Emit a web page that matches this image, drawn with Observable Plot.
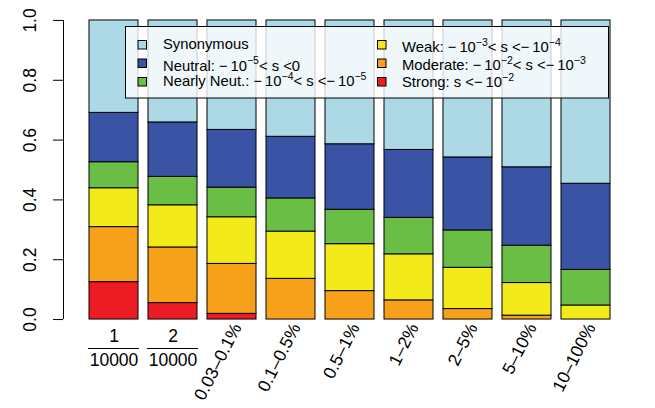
<!DOCTYPE html>
<html><head><meta charset="utf-8">
<script src="https://cdn.jsdelivr.net/npm/d3@7"></script>
<script src="https://cdn.jsdelivr.net/npm/@observablehq/plot@0.6"></script>
<style>
html,body{margin:0;padding:0;background:#fff;}
#chart svg{display:block;}
</style></head><body><div id="chart"></div>
<script>
// ---- data ----
const categories = ["1/10000","2/10000","0.03–0.1%","0.1–0.5%","0.5–1%","1–2%","2–5%","5–10%","10–100%"];
const strong        = [0.125,0.055,0.019,0,0,0,0,0,0];
const moderate      = [0.184,0.186,0.167,0.136,0.095,0.064,0.035,0.013,0];
const weak          = [0.130,0.141,0.156,0.158,0.157,0.154,0.138,0.109,0.047];
const nearlyNeutral = [0.087,0.095,0.099,0.111,0.115,0.122,0.125,0.125,0.119];
const neutral       = [0.165,0.182,0.193,0.206,0.219,0.227,0.244,0.262,0.288];
const synonymous    = [0.309,0.341,0.366,0.389,0.414,0.433,0.458,0.491,0.546];
const classes = ["Strong","Moderate","Weak","Nearly Neut.","Neutral","Synonymous"];
const classColors = ["#ec1c24","#f7a11a","#f3ea1a","#6abd45","#3a53a4","#add8e6"];
const yTicks = [0,0.2,0.4,0.6,0.8,1.0];
const legendClasses = ["Synonymous","Neutral","Nearly Neut.","Weak","Moderate","Strong"];
const legendLabels = [
  "Synonymous",
  "Neutral: −\u200910^{−5}< s <0",
  "Nearly Neut.: −\u200910^{−4}< s <−\u200910^{−5}",
  "Weak: −\u200910^{−3}< s <−\u200910^{−4}",
  "Moderate: −\u200910^{−2}< s <−\u200910^{−3}",
  "Strong: s <−\u200910^{−2}"
];

// ---- table ----
const series = [strong, moderate, weak, nearlyNeutral, neutral, synonymous];
const table = [];
categories.forEach((c, i) => classes.forEach((k, j) => table.push({cat: c, cls: k, value: series[j][i]})));
const fracCats = categories.filter(c => c.includes("/"));
const rotCats = categories.filter(c => !c.includes("/"));

const FONT = "'Liberation Sans', Arial, Helvetica, sans-serif";
const W = 655, H = 408, ML = 63, MR = 19.5, MT = 8, MB = 77;
const FS = 17.5;

const chart = Plot.plot({
  width: W, height: H,
  marginLeft: ML, marginRight: MR, marginTop: MT, marginBottom: MB,
  style: {fontFamily: FONT, background: "#fff", color: "#000", overflow: "visible"},
  x: {type: "band", domain: categories, paddingInner: 1/6, paddingOuter: 0.355, axis: null},
  y: {domain: [-0.04, 1.04], axis: null},
  color: {domain: classes, range: classColors},
  marks: [
    Plot.barY(table, Plot.stackY({x: "cat", y: "value", z: "cls", fill: "cls", order: classes, stroke: "#000", strokeWidth: 1})),
    Plot.axisY({ticks: yTicks, label: null, tickSize: 10, tickPadding: 18, tickRotate: -90, tickFormat: d3.format(".1f"), fontSize: FS, stroke: "#000", strokeOpacity: 1}),
    Plot.text(rotCats, {x: d => d, text: d => d, frameAnchor: "bottom", rotate: -63, textAnchor: "end", lineAnchor: "middle", dx: 5, dy: -7, fontSize: FS}),
    Plot.text(fracCats, {x: d => d, text: d => d.split("/")[0], frameAnchor: "bottom", lineAnchor: "middle", dy: 5, fontSize: FS}),
    Plot.text(fracCats, {x: d => d, text: d => d.split("/")[1], frameAnchor: "bottom", lineAnchor: "middle", dy: 29, fontSize: FS})
  ]
});
document.getElementById("chart").appendChild(chart);

// ---- post: axis line, fraction bars, legend ----
const svg = d3.select(chart);
const xs = chart.scale("x"), ys = chart.scale("y");
svg.append("line").attr("x1", ML + 0.5).attr("x2", ML + 0.5)
  .attr("y1", ys.apply(0)).attr("y2", ys.apply(1)).attr("stroke", "#000").attr("stroke-width", 1);
fracCats.forEach(c => {
  const x0 = xs.apply(c);
  svg.append("line").attr("x1", x0 - 1).attr("x2", x0 + xs.bandwidth + 1)
    .attr("y1", 348.5).attr("y2", 348.5).attr("stroke", "#000").attr("stroke-width", 1);
});

const lg = svg.append("g").attr("font-family", FONT).attr("font-size", 14.8).attr("text-anchor", "start");
lg.append("rect").attr("x", 125.5).attr("y", 26.5).attr("width", 483).attr("height", 71.5)
  .attr("fill", "#fff").attr("fill-opacity", 0.8).attr("stroke", "#000").attr("stroke-width", 1);
const rowCenters = [44.5, 63, 81.5];
const baselines = [[48.5, 70.5, 86], [52, 70, 87]];
const colSwatchX = [138, 377.5], colTextX = [163, 402];
legendClasses.forEach((k, i) => {
  const col = Math.floor(i / 3), row = i % 3;
  lg.append("rect").attr("x", colSwatchX[col]).attr("y", rowCenters[row] - 4)
    .attr("width", 8.5).attr("height", 8.5)
    .attr("fill", classColors[classes.indexOf(k)]).attr("stroke", "#000").attr("stroke-width", 1);
  const t = lg.append("text").attr("x", colTextX[col]).attr("y", baselines[col][row]).attr("fill", "#000");
  const parts = legendLabels[i].split(/\^\{([^}]*)\}/);
  let raised = false;
  parts.forEach((p, j) => {
    if (p === "") return;
    const sup = j % 2 === 1;
    const ts = t.append("tspan").text(p);
    if (sup) { ts.attr("font-size", 10.5).attr("dy", -6.5); raised = true; }
    else if (raised) { ts.attr("dy", 6.5); raised = false; }
  });
});
</script></body></html>
